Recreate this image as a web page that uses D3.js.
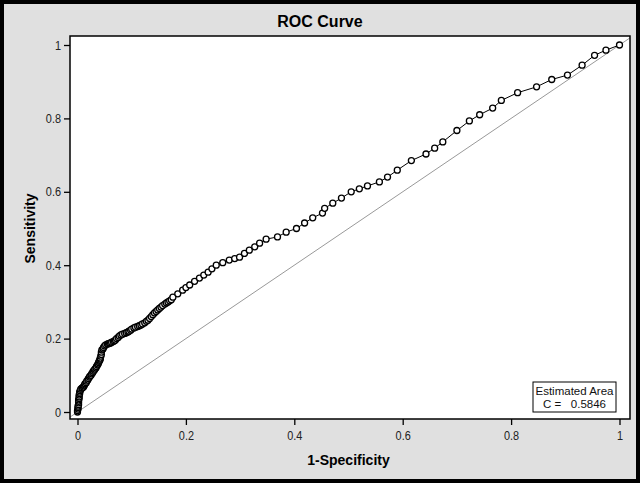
<!DOCTYPE html>
<html>
<head>
<meta charset="utf-8">
<script src="https://cdn.jsdelivr.net/npm/d3@7"></script>
<style>
  html, body { margin: 0; padding: 0; background: #fff; }
  svg { display: block; }
  .tick text { font-family: "Liberation Sans", Arial, sans-serif; font-size: 13px; fill: #222; }
</style>
</head>
<body>
<svg id="chart" width="640" height="483"></svg>
<script>
// ---- data ----
const fpr = [
  0, 0, 0.001, 0.001, 0.001, 0.002, 0.002, 0.002, 0.002, 0.003,
  0.003, 0.003, 0.004, 0.004, 0.005, 0.006, 0.008, 0.009, 0.011, 0.012,
  0.013, 0.014, 0.016, 0.017, 0.019, 0.020, 0.022, 0.023, 0.025, 0.026,
  0.028, 0.029, 0.031, 0.032, 0.034, 0.035, 0.037, 0.038, 0.039, 0.040,
  0.041, 0.042, 0.042, 0.043, 0.044, 0.044, 0.045, 0.047, 0.048, 0.050,
  0.052, 0.055, 0.057, 0.059, 0.061, 0.063, 0.066, 0.068, 0.070, 0.072,
  0.075, 0.077, 0.080, 0.083, 0.087, 0.090, 0.093, 0.095, 0.098, 0.100,
  0.104, 0.107, 0.111, 0.114, 0.117, 0.120, 0.124, 0.127, 0.130, 0.133,
  0.136, 0.139, 0.142, 0.145, 0.148, 0.151, 0.154, 0.157, 0.161, 0.164,
  0.167, 0.170, 0.173, 0.176,
  0.185, 0.194, 0.2, 0.207, 0.216, 0.225, 0.233, 0.241, 0.248, 0.256,
  0.268, 0.28, 0.29, 0.299, 0.308, 0.317, 0.327, 0.336, 0.348, 0.369,
  0.385, 0.404, 0.419, 0.434, 0.452, 0.456, 0.471, 0.487, 0.505, 0.52,
  0.535, 0.557, 0.572, 0.59, 0.616, 0.643, 0.659, 0.674, 0.70, 0.723,
  0.742, 0.766, 0.782, 0.812, 0.847, 0.875, 0.904, 0.931, 0.954, 0.975, 1];
const tpr = [
  0, 0.004, 0.008, 0.012, 0.016, 0.02, 0.025, 0.029, 0.033, 0.037,
  0.041, 0.046, 0.05, 0.054, 0.058, 0.062, 0.065, 0.066, 0.068, 0.071,
  0.074, 0.077, 0.08, 0.084, 0.087, 0.091, 0.095, 0.098, 0.10, 0.104,
  0.107, 0.111, 0.114, 0.117, 0.12, 0.124, 0.128, 0.131, 0.135, 0.138,
  0.141, 0.144, 0.147, 0.152, 0.157, 0.163, 0.169, 0.172, 0.176, 0.18,
  0.183, 0.185, 0.186, 0.187, 0.188, 0.19, 0.192, 0.194, 0.196, 0.20,
  0.203, 0.207, 0.21, 0.212, 0.214, 0.216, 0.218, 0.22, 0.223, 0.226,
  0.229, 0.231, 0.233, 0.235, 0.237, 0.24, 0.243, 0.247, 0.25, 0.255,
  0.26, 0.265, 0.27, 0.274, 0.278, 0.282, 0.286, 0.29, 0.294, 0.297,
  0.30, 0.303, 0.306, 0.313,
  0.322, 0.332, 0.339, 0.346, 0.356, 0.365, 0.373, 0.381, 0.39, 0.40,
  0.407, 0.414, 0.418, 0.422, 0.432, 0.441, 0.45, 0.46, 0.471, 0.477,
  0.49, 0.50, 0.515, 0.529, 0.542, 0.555, 0.569, 0.583, 0.60, 0.608,
  0.616, 0.627, 0.64, 0.659, 0.685, 0.703, 0.719, 0.736, 0.767, 0.793,
  0.81, 0.828, 0.849, 0.87, 0.886, 0.906, 0.918, 0.945, 0.972, 0.986, 1];
const xTicks = [0, 0.2, 0.4, 0.6, 0.8, 1];
const yTicks = [0, 0.2, 0.4, 0.6, 0.8, 1];
const titleText = "ROC Curve";
const xLabel = "1-Specificity";
const yLabel = "Sensitivity";
const legendLines = ["Estimated Area", "C =   0.5846"];

// ---- drawing ----
const svg = d3.select("#chart");
const W = 640, H = 483;
const frame = { left: 70, top: 36, right: 630, bottom: 419 };
const NARROW = 0.84;

svg.append("rect").attr("x", 2).attr("y", 2).attr("width", W - 4).attr("height", H - 4)
  .attr("fill", "#e0e0e0").attr("stroke", "#000").attr("stroke-width", 4);

const x = d3.scaleLinear().domain([0, 1]).range([77.5, 619.5]);
const y = d3.scaleLinear().domain([0, 1]).range([412, 45]);

svg.append("rect").attr("x", frame.left).attr("y", frame.top)
  .attr("width", frame.right - frame.left).attr("height", frame.bottom - frame.top)
  .attr("fill", "#fff");

svg.append("clipPath").attr("id", "clip").append("rect")
  .attr("x", frame.left).attr("y", frame.top)
  .attr("width", frame.right - frame.left).attr("height", frame.bottom - frame.top);

const plot = svg.append("g").attr("clip-path", "url(#clip)");

// diagonal reference line across the whole frame
const dx0 = x.invert(frame.left), dx1 = x.invert(frame.right);
plot.append("line")
  .attr("x1", x(dx0)).attr("y1", y(dx0)).attr("x2", x(dx1)).attr("y2", y(dx1))
  .attr("stroke", "#999").attr("stroke-width", 1);

const pts = fpr.map((f, i) => [f, tpr[i]]);
plot.append("path").datum(pts)
  .attr("fill", "none").attr("stroke", "#000").attr("stroke-width", 1)
  .attr("d", d3.line().x(d => x(d[0])).y(d => y(d[1])));

plot.selectAll("circle.pt").data(pts).enter().append("circle")
  .attr("class", "pt")
  .attr("cx", d => x(d[0])).attr("cy", d => y(d[1])).attr("r", 3)
  .attr("fill", "#fff").attr("stroke", "#000").attr("stroke-width", 1.3);

// frame border
svg.append("rect").attr("x", frame.left).attr("y", frame.top)
  .attr("width", frame.right - frame.left).attr("height", frame.bottom - frame.top)
  .attr("fill", "none").attr("stroke", "#000").attr("stroke-width", 1.5);

// axes
const fmt = d => String(d);
const yAxis = svg.append("g").attr("transform", `translate(${frame.left},0)`)
  .call(d3.axisLeft(y).tickValues(yTicks).tickSize(6).tickPadding(3).tickFormat(fmt));
const xAxis = svg.append("g").attr("transform", `translate(0,${frame.bottom})`)
  .call(d3.axisBottom(x).tickValues(xTicks).tickSize(6).tickPadding(6).tickFormat(fmt));
[yAxis, xAxis].forEach(a => {
  a.select(".domain").remove();
  a.selectAll(".tick line").attr("stroke", "#000").attr("stroke-width", 1.3);
});
// condensed look for tick labels (scale horizontally about the anchor point)
yAxis.selectAll(".tick text").each(function () {
  const t = d3.select(this), ax = +t.attr("x");
  t.attr("transform", `translate(${ax},0) scale(${NARROW},1) translate(${-ax},0)`);
});
xAxis.selectAll(".tick text").attr("transform", `scale(${NARROW},1)`);

// titles
svg.append("text").attr("x", 320).attr("y", 27).attr("text-anchor", "middle")
  .attr("font-family", "Liberation Sans, Arial, sans-serif").attr("font-size", 16).attr("font-weight", "bold")
  .attr("fill", "#000").text(titleText);
svg.append("text").attr("x", (x(0) + x(1)) / 2).attr("y", 465).attr("text-anchor", "middle")
  .attr("font-family", "Liberation Sans, Arial, sans-serif").attr("font-size", 14).attr("font-weight", "bold")
  .attr("fill", "#000").text(xLabel);
svg.append("text")
  .attr("transform", `translate(35,${(y(0) + y(1)) / 2}) rotate(-90)`)
  .attr("text-anchor", "middle")
  .attr("font-family", "Liberation Sans, Arial, sans-serif").attr("font-size", 14).attr("font-weight", "bold")
  .attr("fill", "#000").text(yLabel);

// legend box
const lg = svg.append("g");
lg.append("rect").attr("x", 533).attr("y", 382).attr("width", 83).attr("height", 30)
  .attr("fill", "#fff").attr("stroke", "#000").attr("stroke-width", 1);
const lgx = 574.5;
lg.selectAll("text").data(legendLines).enter().append("text")
  .attr("x", lgx).attr("y", (d, i) => 395 + i * 13).attr("text-anchor", "middle")
  .attr("font-family", "Liberation Sans, Arial, sans-serif").attr("font-size", 11.5)
  .attr("fill", "#111").style("white-space", "pre").text(d => d);
</script>
</body>
</html>
